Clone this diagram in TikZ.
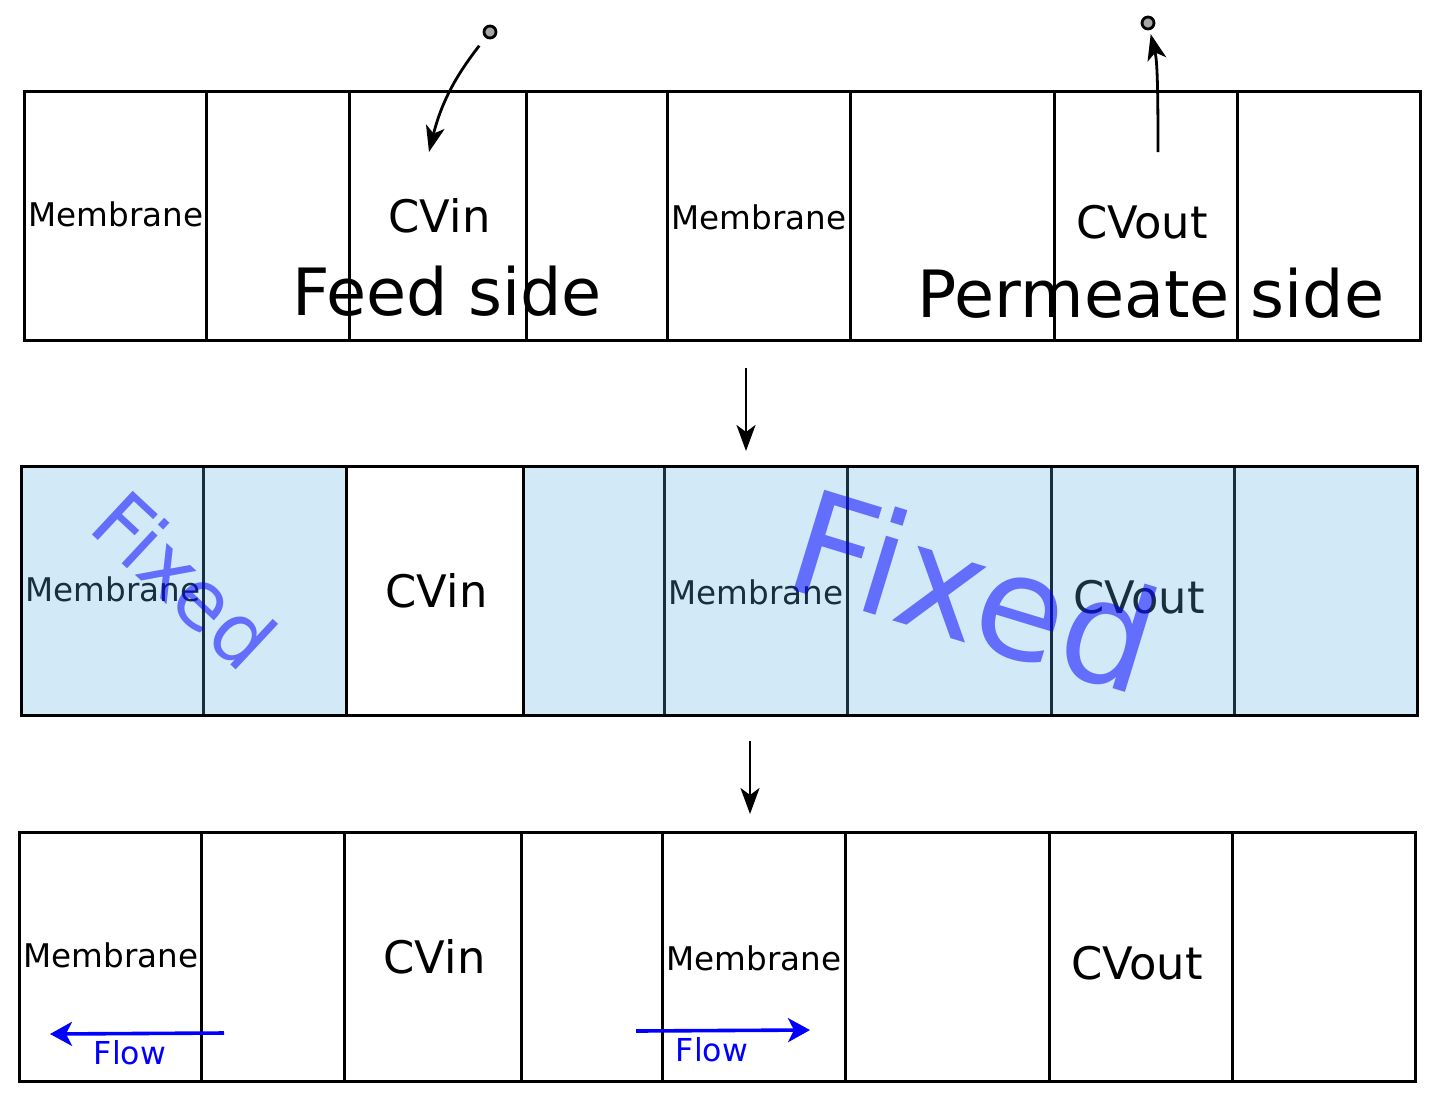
\documentclass[tikz,border=0pt]{standalone}
\usepackage{fontspec}
\setmainfont{DejaVu Sans}
\usetikzlibrary{arrows.meta}
\definecolor{myblue1}{RGB}{89, 174, 230}
\newcommand{\fs}[1]{\fontsize{#1}{#1}\selectfont}

% one row of cells, labels included; #1 prefixes the node names
\newcommand{\cvrow}[1]{
\foreach \xa/\xb in {24/206, 349/526, 667/850, 1054/1237} {
    \draw[d0] (\xa, 91) rectangle (\xb, 340);
}
\draw[d0] (24, 91) rectangle (1420, 340);
\node[lab1] (#1mema) at (116, 214) {Membrane};
\node[lab2] (#1cvin) at (439.5, 216) {CVin};
\node[lab1] (#1memb) at (759, 217) {Membrane};
\node[lab2] (#1cvout) at (1142, 222) {CVout};
}

\begin{document}
\begin{tikzpicture}[
    x = 0.5pt,
    y = -0.5pt,
    d0/.style = {line width = 1.5pt},
    arr/.style = {line width = 1.4pt, -{Stealth[length = 13pt, width = 9.5pt, inset = 3.5pt]}},
    flowarr/.style = {line width = 1.8pt, blue, -{Stealth[length = 11pt, width = 12pt, inset = 3pt]}},
    lab1/.style = {inner sep = 0, font = \fs{16.3}},
    lab2/.style = {inner sep = 0, font = \fs{22.4}},
    lab3/.style = {inner sep = 0, font = \fs{32.6}},
    flowlab/.style = {inner sep = 0, blue, font = \fs{15.8}},
    fixedlab/.style = {inner sep = 0, blue, text opacity = 0.53},
    pt/.style = {circle, draw, fill = gray!70, line width = 1.4pt, inner sep = 0, minimum size = 6pt}
]
\useasboundingbox (0, 0) rectangle (1443, 1103);

% top row
\cvrow{a}
\node[lab3] (feed) at (447, 291) {Feed side};
\node[lab3] (perm) at (1151, 293) {Permeate side};
\node[pt] (ptin) at (490, 32) {};
\node[pt] (ptout) at (1148, 23) {};
\coordinate (inend) at (429, 152);
\coordinate (outstart) at (1158, 152);
\draw[arr, shorten <= 5pt] (ptin) to[out = 232, in = 76] (inend);
\draw[arr, shorten >= 2pt] (outstart) .. controls (1158, 80) and (1157, 60) .. (ptout);

% middle row
\begin{scope}[shift = {(-3, 375)}]
\cvrow{b}
\fill[myblue1, opacity = 0.27] (24, 91) rectangle (349, 340);
\fill[myblue1, opacity = 0.27] (526, 91) rectangle (1420, 340);
\draw[d0] (24, 91) rectangle (1420, 340);
\draw[d0] (349, 91) -- (349, 340) (526, 91) -- (526, 340);
\node[fixedlab, font = \fs{41}, rotate = -43] (fixa) at (188, 205) {Fixed};
\node[fixedlab, font = \fs{72}, rotate = -17] (fixb) at (978, 215) {Fixed};
\end{scope}

% bottom row
\begin{scope}[shift = {(-5, 741)}]
\cvrow{c}
\coordinate (flowa) at (229, 292);
\coordinate (flowb) at (55, 293);
\coordinate (flowc) at (641, 290);
\coordinate (flowd) at (815, 289);
\draw[flowarr] (flowa) -- (flowb);
\draw[flowarr] (flowc) -- (flowd);
\node[flowlab] (flowlaba) at (135, 312) {Flow};
\node[flowlab] (flowlabb) at (717, 309) {Flow};
\end{scope}

% steps between the rows
\coordinate (stepa) at (746, 368);
\coordinate (stepb) at (746, 451);
\coordinate (stepc) at (750, 741);
\coordinate (stepd) at (750, 814);
\draw[arr] (stepa) -- (stepb);
\draw[arr] (stepc) -- (stepd);

\end{tikzpicture}
\end{document}
